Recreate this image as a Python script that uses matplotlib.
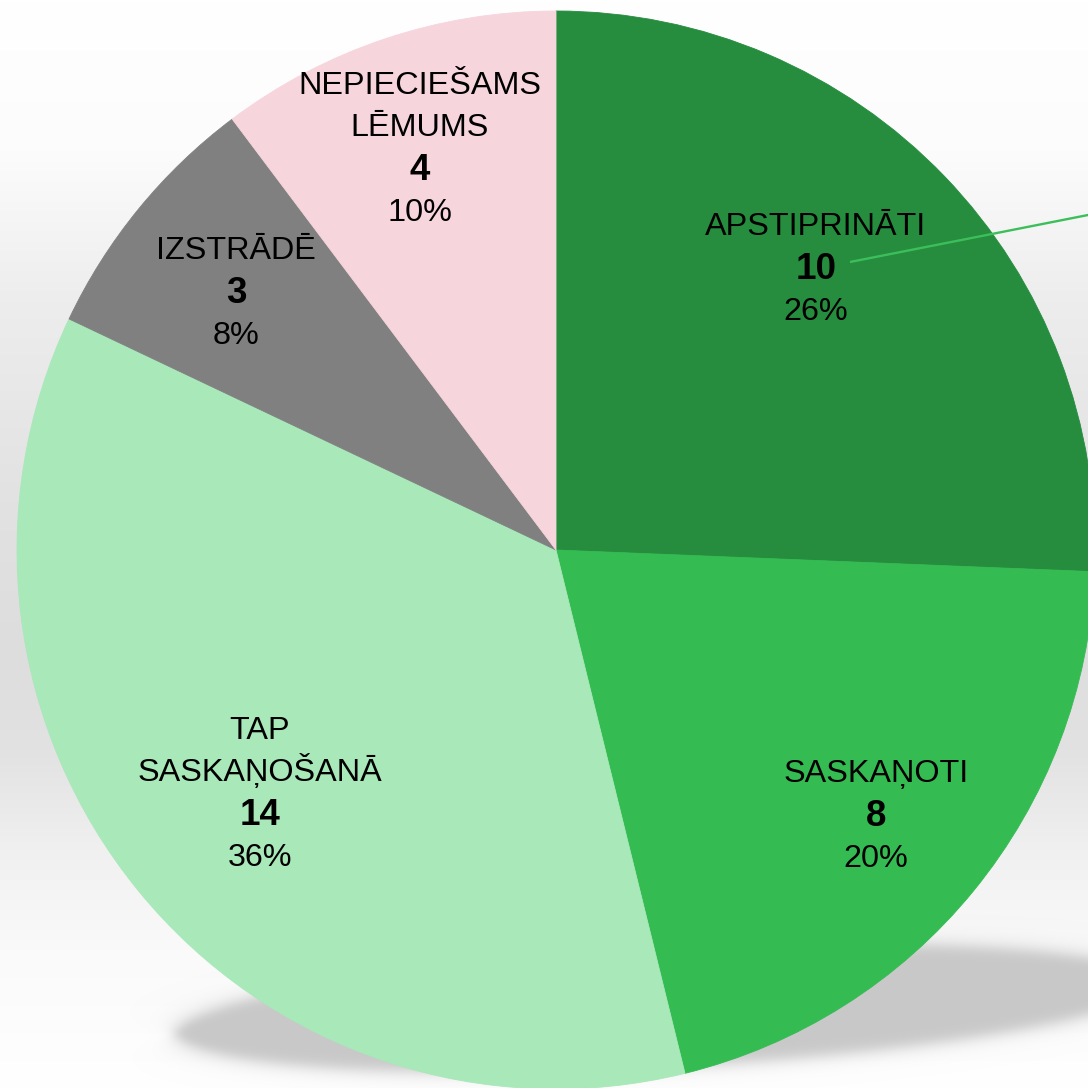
import numpy as np
import matplotlib.pyplot as plt

plt.rcParams['font.family'] = ['Liberation Sans', 'DejaVu Sans']

# slices, clockwise from 12 o'clock
names = ['APSTIPRINĀTI', 'SASKAŅOTI', 'TAP\nSASKAŅOŠANĀ', 'IZSTRĀDĒ', 'NEPIECIEŠAMS\nLĒMUMS']
counts = [10, 8, 14, 3, 4]
colors = ['#268c3e', '#34bb52', '#a8e8b9', '#808080', '#f7d5dc']

W = 1088
cx, cy, R = 556, W - 550, 539
# label centres (image pixels, y from top)
label_xy = [(816, 266), (876, 813), (260, 791), (236, 290), (420, 146)]
line_h = 42.5
cap = 23


def round_pcts(vals):
    # largest remainder so the percents add up to 100
    tot = float(sum(vals))
    raw = [100.0 * v / tot for v in vals]
    out = [int(np.floor(r)) for r in raw]
    left = 100 - sum(out)
    order = sorted(range(len(raw)), key=lambda i: raw[i] - out[i], reverse=True)
    for i in order[:left]:
        out[i] += 1
    return out


fig = plt.figure(figsize=(10.88, 10.88), dpi=100)
ax = fig.add_axes([0, 0, 1, 1])

# background: soft vertical grey band
ys = np.arange(W)
prof = np.interp(ys, [0, 150, 300, 500, 650, 750, 850, 950, 1088],
                 [255, 252, 237, 226, 221, 226, 240, 250, 255]) / 255.0
bg = np.repeat(prof[:, None], W, axis=1)
ax.imshow(np.dstack([bg, bg, bg]), extent=[0, W, 0, W], origin='upper',
          zorder=0, aspect='auto')

# shadow under the pie
xx, yy = np.meshgrid(np.arange(W) + 0.5, np.arange(W) + 0.5)
ang = np.deg2rad(-3.0)
u = (xx - 665) * np.cos(ang) + (yy - 1008) * np.sin(ang)
v = -(xx - 665) * np.sin(ang) + (yy - 1008) * np.cos(ang)
a, b = 490.0, 60.0
f = (u / a) ** 2 + (v / b) ** 2 - 1
g = np.sqrt((2 * u / a ** 2) ** 2 + (2 * v / b ** 2) ** 2) + 1e-9
d = f / g
alpha = 1 / (1 + np.exp(d / 4.5))
sh = np.zeros((W, W, 4))
sh[..., :3] = 200 / 255.0
sh[..., 3] = alpha
ax.imshow(sh, extent=[0, W, 0, W], origin='upper', zorder=1, aspect='auto')

wedges, _ = ax.pie(counts, colors=colors, startangle=90, counterclock=False,
                   center=(cx, cy), radius=R, frame=True,
                   wedgeprops=dict(linewidth=0.6, zorder=3))
for w, c in zip(wedges, colors):
    w.set_edgecolor(c)

pcts = round_pcts(counts)
for name, n, p, (lx, ly) in zip(names, counts, pcts, label_xy):
    lines = name.split('\n') + [str(n), '%d%%' % p]
    k = len(lines)
    for i, s in enumerate(lines):
        yc = ly + (i - (k - 1) / 2.0) * line_h
        bold = (i == k - 2)
        ch = 26 if bold else cap
        ax.text(lx, W - (yc + ch / 2.0), s, ha='center', va='baseline',
                fontsize=26.5 if bold else 23.3,
                fontweight='bold' if bold else 'normal',
                color='black', zorder=5)

# leader line from first label going out of frame
x0, y0 = 850, 262
slope = (262 - 215) / (1088 - 850)
x1 = 1200
ax.plot([x0, x1], [W - y0, W - (y0 - slope * (x1 - x0))], color='#3cbf5a',
        lw=1.7, zorder=4, solid_capstyle='butt')

ax.set_xlim(0, W)
ax.set_ylim(0, W)
ax.axis('off')
fig.savefig('out.png', dpi=100)
